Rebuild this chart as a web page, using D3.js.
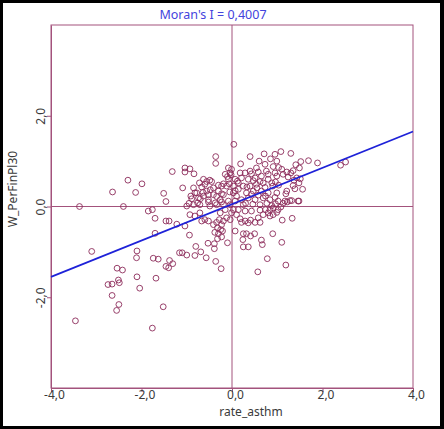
<!DOCTYPE html>
<html>
<head>
<meta charset="utf-8">
<script src="https://cdn.jsdelivr.net/npm/d3@7"></script>
<style>
  html, body { margin: 0; padding: 0; background: #ffffff; }
  svg { display: block; }
  text { font-family: "Noto Sans", "Open Sans", "DejaVu Sans", sans-serif; }
</style>
</head>
<body>
<script>
// Moran scatterplot: standardized asthma rate vs. its spatial lag.
const xTicks = [-4, -2, 0, 2, 4];
const yTicks = [-2, 0, 2];
const xTitle = "rate_asthm";
const yTitle = "W_PerFinPl30";
const moranI = 0.4007;
const fitIntercept = 0.05;

// [rate_asthm, W_PerFinPl30]
const westObs = [
  [-3.37,0.00],[-2.40,0.00],[-2.64,0.32],[-2.30,0.58],[-2.13,0.31],[-1.99,0.50],[-1.32,0.77],
  [-1.51,0.29],[-1.46,0.11],[-1.85,-0.10],[-1.76,-0.07],[-1.70,-0.26],[-1.46,-0.32],[-1.39,-0.32],
  [-1.22,-0.39],[-1.70,-0.59],[-3.10,-0.99],[-2.10,-0.98],[-2.11,-1.13],[-1.74,-1.14],[-1.63,-1.16],
  [-1.38,-1.19],[-1.31,-1.26],[-1.46,-1.32],[-1.40,-1.35],[-2.54,-1.36],[-2.42,-1.40],[-2.10,-1.55],
  [-1.68,-1.58],[-2.51,-1.62],[-2.49,-1.68],[-2.74,-1.72],[-2.65,-1.71],[-2.04,-1.80],[-2.65,-1.96],
  [-2.50,-2.16],[-2.55,-2.29],[-1.52,-2.21],[-3.46,-2.52],[-1.76,-2.68],[-1.16,-1.02]
];

const upperObs = [
  [0.04,1.37],[-0.36,1.10],[-0.36,0.95],[-1.04,0.85],[-0.93,0.83],[-1.04,0.76],[-0.84,0.72],
  [-1.09,0.41],[-0.63,0.60],[-0.49,0.58],[-0.60,0.49],[-0.72,0.52],[-0.85,0.41],[-0.78,0.30],
  [-0.91,0.23],[-0.74,0.19],[-0.56,0.34],[-0.41,0.41],[-0.30,0.34],[-0.19,0.26],[-0.23,0.45],
  [-0.12,0.45],[-0.08,0.60],[-0.04,0.74],[-0.08,0.85],[-0.01,0.82],[-0.15,0.71],[-0.41,0.26],
  [-0.52,0.15],[-0.63,0.23],[-0.34,0.04],[-0.26,0.15],[-0.71,0.04],[0.19,0.94],[0.40,1.10],
  [0.60,1.00],[0.71,1.16],[0.95,1.15],[0.85,1.05],[0.99,1.00],[0.91,0.88],[0.73,0.93],
  [0.54,0.85],[0.40,0.78],[0.29,0.74],[0.18,0.74],[0.21,0.63],[0.36,0.60],[0.51,0.63],
  [0.65,0.67],[0.80,0.71],[0.99,0.67],[0.88,0.52],[0.69,0.52],[0.54,0.49],[0.40,0.45],
  [0.25,0.45],[0.14,0.38],[0.32,0.30],[0.47,0.34],[0.65,0.34],[0.80,0.30],[0.99,0.30],
  [1.02,0.12],[0.84,0.15],[0.69,0.19],[0.51,0.15],[0.36,0.19],[0.21,0.15],[0.10,0.23],
  [0.03,0.30],[0.14,0.52],[0.07,0.60],[0.03,0.45],[0.07,0.12],[-0.04,0.04],[0.25,0.04],
  [0.62,0.04],[0.88,0.02],[-0.19,0.04],[-0.49,0.01],[-0.85,0.04],[-1.00,0.01],
  [-0.02,0.70],[-0.10,0.66],[0.12,0.56],[-0.06,0.50],[-0.19,0.50],[-0.30,0.47],[-0.45,0.55],
  [-0.56,0.55],[-0.67,0.43],[-0.48,0.37],[-0.64,0.31],[-0.82,0.30],[-0.89,0.17],[-0.70,0.17],
  [-0.52,0.26],[-0.34,0.22],[-0.23,0.28],[-0.05,0.32],[0.07,0.35],[-0.08,0.12],[-0.23,0.10],
  [-0.37,0.08],[-0.52,0.10],[-0.76,0.08],[-0.95,0.07],
  [0.43,0.72],[0.58,0.76],[0.76,0.78],[0.95,0.74],[1.03,0.86],[0.47,0.57],[0.62,0.55],
  [0.80,0.60],[0.96,0.54],[0.33,0.43],[0.55,0.41],[0.73,0.42],[0.90,0.45],[1.03,0.47],
  [0.43,0.27],[0.58,0.25],[0.74,0.23],[0.95,0.20],[0.30,0.07],[0.46,0.05],[0.77,0.07],[0.96,0.06]
];

const lowerObs = [
  [-1.04,-0.43],[-0.94,-0.63],[-1.10,-1.02],[-1.00,-1.07],[-0.82,-1.08],[-0.69,-1.00],[-0.57,-1.13],
  [-0.80,-0.88],[-0.53,-0.81],[-0.39,-0.82],[-0.39,-0.93],[-0.36,-1.21],[-0.24,-1.37],[-0.10,-0.80],
  [0.07,-0.54],[0.25,-0.60],[0.32,-0.60],[0.41,-0.65],[0.24,-0.73],[0.25,-0.89],[0.36,-0.89],
  [0.50,-0.60],[0.65,-0.74],[0.67,-0.84],[0.78,-1.15],[0.57,-1.44],[0.90,-0.60],
  [-0.41,-0.40],[-0.34,-0.35],[-0.28,-0.29],[-0.23,-0.40],[-0.32,-0.47],[-0.25,-0.51],[-0.38,-0.57],
  [-0.30,-0.60],[-0.21,-0.54],[-0.32,-0.71],[-0.23,-0.67],[-0.19,-0.32],[-0.12,-0.25],[-0.04,-0.29],
  [-0.71,-0.14],[-0.60,-0.29],[-0.52,-0.32],[-0.67,-0.32],[-0.82,-0.21],[-0.93,-0.18],[-0.01,-0.14],
  [0.10,-0.18],[0.18,-0.27],[0.21,-0.35],[0.29,-0.32],[0.36,-0.36],[0.41,-0.30],[0.51,-0.35],
  [0.62,-0.35],[0.58,-0.25],[0.69,-0.18],[0.80,-0.14],[0.91,-0.18],[0.99,-0.13],[0.84,-0.07],
  [0.62,-0.08],[0.43,-0.10],[0.29,-0.10],[0.14,-0.07],[0.03,-0.07],[-0.15,-0.07],[-0.26,-0.14],
  [0.84,-0.21],[0.74,-0.07],[0.91,-0.03],[1.02,-0.07]
];

const eastObs = [
  [1.30,1.17],[1.08,1.21],[1.69,1.01],[1.89,0.96],[2.40,0.91],[2.51,0.98],[1.52,0.99],[1.41,0.92],
  [1.49,0.85],[1.35,0.79],[1.30,0.74],[1.21,0.76],[1.10,0.82],[1.13,0.71],[1.24,0.65],[1.43,0.63],
  [1.51,0.61],[1.37,0.58],[1.48,0.52],[1.35,0.46],[1.39,0.39],[1.56,0.38],[1.21,0.34],[1.19,0.28],
  [1.48,0.12],[1.28,0.13],[1.22,0.10],[1.13,0.07],[1.08,-0.01],[1.11,-0.30],[1.33,-0.26],
  [1.10,-0.79],[1.19,-1.29],[1.17,0.12],[1.32,0.13],[1.46,0.12]
];

const observations = [...westObs, ...upperObs, ...lowerObs, ...eastObs];

const W = 444, H = 429;
const frameColor = "#a3527c";
const pointColor = "#8c2b5a";
const fitColor = "#1e22d8";
const textColor = "#3a3a3a";

// comma decimal separator, plain hyphen for negatives
const locale = d3.formatLocale({decimal: ",", thousands: ".", grouping: [3], currency: ["", ""], minus: "-"});
const fmtTick = locale.format(".1f");
const fmtStat = locale.format(".4f");

const svg = d3.select("body").append("svg").attr("width", W).attr("height", H);

// window border
svg.append("rect").attr("width", W).attr("height", H).attr("fill", "#000");
svg.append("rect").attr("x", 3).attr("y", 3).attr("width", 437).attr("height", 423).attr("fill", "#fff");

const x = d3.scaleLinear().domain([-4, 4]).range([51, 413]);
const y = d3.scaleLinear().domain([-4, 4]).range([388, 25]);

// plot frame
svg.append("rect")
  .attr("x", x(-4)).attr("y", y(4))
  .attr("width", x(4) - x(-4)).attr("height", y(-4) - y(4))
  .attr("fill", "none").attr("stroke", frameColor).attr("stroke-width", 1);

// axes
const xAxis = svg.append("g")
  .attr("transform", `translate(0,${y(-4)})`)
  .call(d3.axisBottom(x).tickValues(xTicks).tickSize(4).tickSizeOuter(0).tickFormat(fmtTick));
const yAxis = svg.append("g")
  .attr("transform", `translate(${x(-4)},0)`)
  .call(d3.axisLeft(y).tickValues(yTicks).tickSize(4).tickSizeOuter(0).tickFormat(fmtTick));

[xAxis, yAxis].forEach(g => {
  g.select(".domain").attr("stroke", frameColor);
  g.selectAll(".tick line").attr("stroke", frameColor);
  g.selectAll(".tick text")
    .attr("fill", textColor)
    .style("font-size", "12px")
    .style("font-family", "'Noto Sans', 'Open Sans', sans-serif");
});
xAxis.selectAll(".tick text").attr("y", 2).attr("dx", 3);
yAxis.selectAll(".tick text")
  .attr("x", null).attr("dy", null)
  .attr("text-anchor", "middle")
  .attr("transform", "translate(-6,0) rotate(-90)");

// zero reference lines
svg.append("line")
  .attr("x1", x(0)).attr("x2", x(0)).attr("y1", y(4)).attr("y2", y(-4))
  .attr("stroke", frameColor).attr("stroke-width", 1);
svg.append("line")
  .attr("x1", x(-4)).attr("x2", x(4)).attr("y1", y(0)).attr("y2", y(0))
  .attr("stroke", frameColor).attr("stroke-width", 1);

// observations
svg.append("g").selectAll("circle")
  .data(observations)
  .join("circle")
  .attr("cx", d => x(d[0]))
  .attr("cy", d => y(d[1]))
  .attr("r", 2.9)
  .attr("fill", "none")
  .attr("stroke", pointColor)
  .attr("stroke-width", 0.9);

// regression line, slope = Moran's I
const fitLine = d3.line().x(d => x(d)).y(d => y(fitIntercept + moranI * d));
svg.append("path")
  .datum([-4, 4])
  .attr("d", fitLine)
  .attr("fill", "none")
  .attr("stroke", fitColor)
  .attr("stroke-width", 1.8);

// titles
svg.append("text")
  .attr("x", 213).attr("y", 19)
  .attr("text-anchor", "middle")
  .attr("fill", "#4343dd")
  .style("font-size", "12.5px")
  .text("Moran's I = " + fmtStat(moranI));

svg.append("text")
  .attr("x", 251).attr("y", 416)
  .attr("text-anchor", "middle")
  .attr("fill", textColor)
  .style("font-size", "12px")
  .text(xTitle);

svg.append("text")
  .attr("transform", "translate(17,189) rotate(-90)")
  .attr("text-anchor", "middle")
  .attr("fill", textColor)
  .style("font-size", "12px")
  .text(yTitle);
</script>
</body>
</html>
